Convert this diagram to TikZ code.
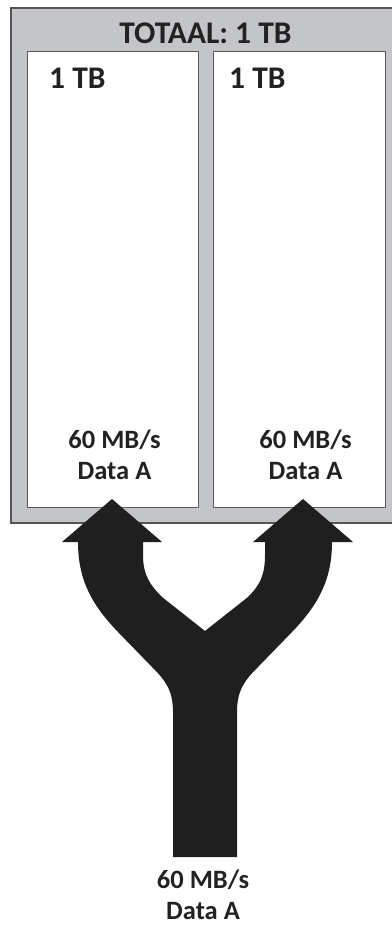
\documentclass[tikz,border=0pt]{standalone}
\usepackage{fontspec}
\setmainfont{Carlito}
\definecolor{outerfill}{HTML}{C4C5C8}
\definecolor{outerline}{HTML}{555555}
\definecolor{innerline}{HTML}{5A5A5A}
\definecolor{arrowfill}{HTML}{1F1F20}
\definecolor{txt}{HTML}{222222}
\begin{document}
\begin{tikzpicture}[x=1pt,y=-1pt,
  bigtxt/.style={font=\fontsize{31.5}{36}\selectfont\bfseries, text=txt, inner sep=0pt},
  ratetxt/.style={font=\fontsize{26.5}{31}\selectfont\bfseries, text=txt, inner sep=0pt, align=center},
  diskbox/.style={draw=innerline, line width=1pt, fill=white}]
\useasboundingbox (0,0) rectangle (391,926);
% outer enclosure
\path[fill=outerfill, draw=outerline, line width=1.2pt] (11,8) rectangle (395,523);
\node[bigtxt] (total) at (205.5,33) {TOTAAL: 1 TB};
% disks
\path[diskbox] (27,51) rectangle (198,507);
\path[diskbox] (213,51) rectangle (385,507);
\node[bigtxt, anchor=west] (capL) at (49,78) {1 TB};
\node[bigtxt, anchor=west] (capR) at (229,78) {1 TB};
\node[ratetxt] (rateL) at (114.5,455) {60 MB/s\\Data A};
\node[ratetxt] (rateR) at (305.5,455) {60 MB/s\\Data A};
% Y arrow
\fill[arrowfill]
  (173,857) -- (173,712)
  .. controls (173,690) and (165,680) .. (152,667)
  -- (118,632)
  .. controls (92,605) and (78,580) .. (78,542)
  -- (62,542) -- (112,499) -- (162,542) -- (143,542)
  -- (143,555) .. controls (143,575) and (150,585) .. (162,597)
  -- (205,631) -- (248,597)
  .. controls (260,585) and (265,575) .. (265,555)
  -- (265,542) -- (253,542) -- (303,499) -- (353,542) -- (332,542)
  .. controls (332,580) and (318,605) .. (292,632)
  -- (258,667)
  .. controls (245,680) and (237,690) .. (237,712)
  -- (237,857) -- cycle;
\node[ratetxt] (rateIn) at (203,895) {60 MB/s\\Data A};
\end{tikzpicture}
\end{document}
